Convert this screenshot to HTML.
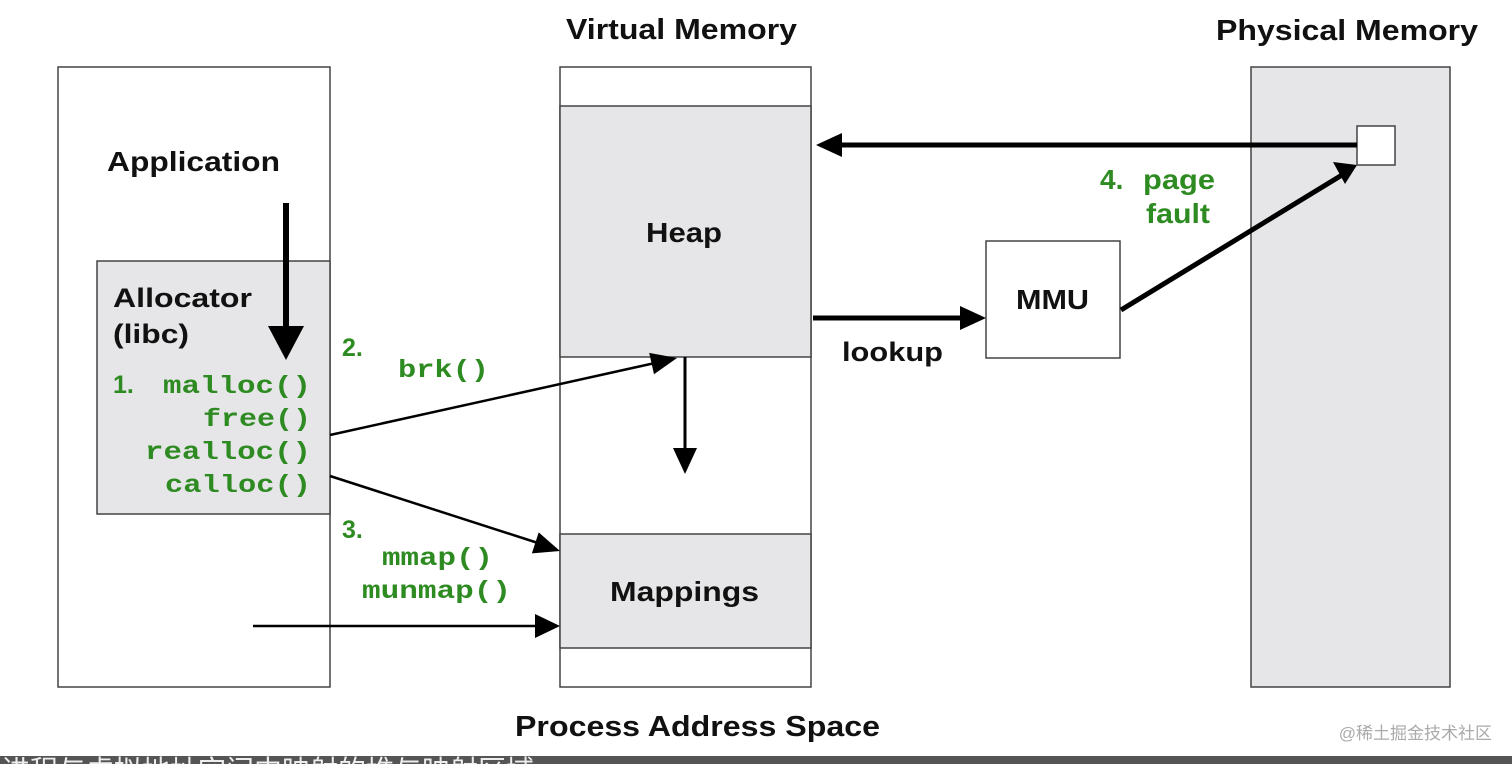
<!DOCTYPE html>
<html><head><meta charset="utf-8"><style>
html,body{margin:0;padding:0;background:#fff;width:1512px;height:764px;overflow:hidden}
svg{display:block}
.b{font-family:"Liberation Sans",Arial,sans-serif;font-weight:bold;fill:#111}
.g{font-family:"Liberation Sans",Arial,sans-serif;font-weight:bold;fill:#2e8b22}
.m{font-family:"Liberation Mono","Courier New",monospace;font-weight:bold;fill:#2e8b22}
</style></head><body>
<svg width="1512" height="764" viewBox="0 0 1512 764" xmlns="http://www.w3.org/2000/svg">
<g stroke="#444" stroke-width="1.5">
<rect x="58" y="67" width="272" height="620" fill="#fff"/>
<rect x="97" y="261" width="233" height="253" fill="#e6e6e8"/>
<rect x="560" y="67" width="251" height="620" fill="#fff"/>
<rect x="560" y="106" width="251" height="251" fill="#e6e6e8"/>
<rect x="560" y="534" width="251" height="114" fill="#e6e6e8"/>
<rect x="1251" y="67" width="199" height="620" fill="#e6e6e8"/>
<rect x="1357" y="126" width="38" height="39" fill="#fff"/>
<rect x="986" y="241" width="134" height="117" fill="#fff"/>
</g>
<text class="b" x="566" y="39" font-size="29" textLength="231" lengthAdjust="spacingAndGlyphs">Virtual Memory</text>
<text class="b" x="1216" y="40" font-size="29" textLength="262" lengthAdjust="spacingAndGlyphs">Physical Memory</text>
<text class="b" x="515" y="736" font-size="29" textLength="365" lengthAdjust="spacingAndGlyphs">Process Address Space</text>
<text class="b" x="107" y="171" font-size="28" textLength="173" lengthAdjust="spacingAndGlyphs">Application</text>
<text class="b" x="113" y="307" font-size="27" textLength="139" lengthAdjust="spacingAndGlyphs">Allocator</text>
<text class="b" x="113" y="343" font-size="27" textLength="76" lengthAdjust="spacingAndGlyphs">(libc)</text>
<text class="b" x="646" y="242" font-size="28" textLength="76" lengthAdjust="spacingAndGlyphs">Heap</text>
<text class="b" x="610" y="601" font-size="28" textLength="149" lengthAdjust="spacingAndGlyphs">Mappings</text>
<text class="b" x="1016" y="309" font-size="28" textLength="73" lengthAdjust="spacingAndGlyphs">MMU</text>
<text class="b" x="842" y="361" font-size="27" textLength="101" lengthAdjust="spacingAndGlyphs">lookup</text>
<text class="g" x="113" y="393" font-size="25">1.</text>
<text class="m" x="163" y="393" font-size="25" textLength="148" lengthAdjust="spacingAndGlyphs">malloc()</text>
<text class="m" x="203" y="426" font-size="25" textLength="108" lengthAdjust="spacingAndGlyphs">free()</text>
<text class="m" x="145" y="459" font-size="25" textLength="166" lengthAdjust="spacingAndGlyphs">realloc()</text>
<text class="m" x="165" y="492" font-size="25" textLength="146" lengthAdjust="spacingAndGlyphs">calloc()</text>
<text class="g" x="342" y="356" font-size="25">2.</text>
<text class="m" x="398" y="377" font-size="25" textLength="91" lengthAdjust="spacingAndGlyphs">brk()</text>
<text class="g" x="342" y="538" font-size="25">3.</text>
<text class="m" x="382" y="565" font-size="25" textLength="111" lengthAdjust="spacingAndGlyphs">mmap()</text>
<text class="m" x="362" y="598" font-size="25" textLength="149" lengthAdjust="spacingAndGlyphs">munmap()</text>
<text class="g" x="1100" y="189" font-size="28">4.</text>
<text class="g" x="1143" y="189" font-size="28" textLength="72" lengthAdjust="spacingAndGlyphs">page</text>
<text class="g" x="1146" y="223" font-size="28" textLength="64" lengthAdjust="spacingAndGlyphs">fault</text>
<g stroke="#000" fill="none">
<line x1="286" y1="203" x2="286" y2="330" stroke-width="6"/>
<line x1="330" y1="435" x2="655" y2="363" stroke-width="2.5"/>
<line x1="330" y1="476" x2="538" y2="543" stroke-width="2.5"/>
<line x1="253" y1="626" x2="538" y2="626" stroke-width="2.5"/>
<line x1="685" y1="357" x2="685" y2="450" stroke-width="3"/>
<line x1="1357" y1="145" x2="840" y2="145" stroke-width="5"/>
<line x1="813" y1="318" x2="962" y2="318" stroke-width="5"/>
<line x1="1121" y1="310" x2="1342" y2="175" stroke-width="5"/>
</g>
<g fill="#000">
<path d="M268,326 L304,326 L286,360 z"/>
<path d="M677,358 L654,374.3 L649.2,352.9 z"/>
<path d="M560,551 L531.9,553.4 L538.7,532.4 z"/>
<path d="M535,614 L560,626 L535,638 z"/>
<path d="M673,448 L697,448 L685,474 z"/>
<path d="M842,133 L842,157 L816,145 z"/>
<path d="M960,306 L960,330 L986,318 z"/>
<path d="M1333,162 L1357,165 L1345,184 z"/>
</g>
<text x="1492" y="739" font-size="17" text-anchor="end" fill="#aaa" font-family="'Liberation Sans','Noto Sans CJK SC',sans-serif">@稀土掘金技术社区</text>
<rect x="0" y="756" width="1512" height="8" fill="#555"/>
<text x="2" y="780" font-size="28" fill="#eee" font-family="'Liberation Sans','Noto Sans CJK SC',sans-serif">进程与虚拟地址空间中映射的堆与映射区域</text>
</svg>
</body></html>
